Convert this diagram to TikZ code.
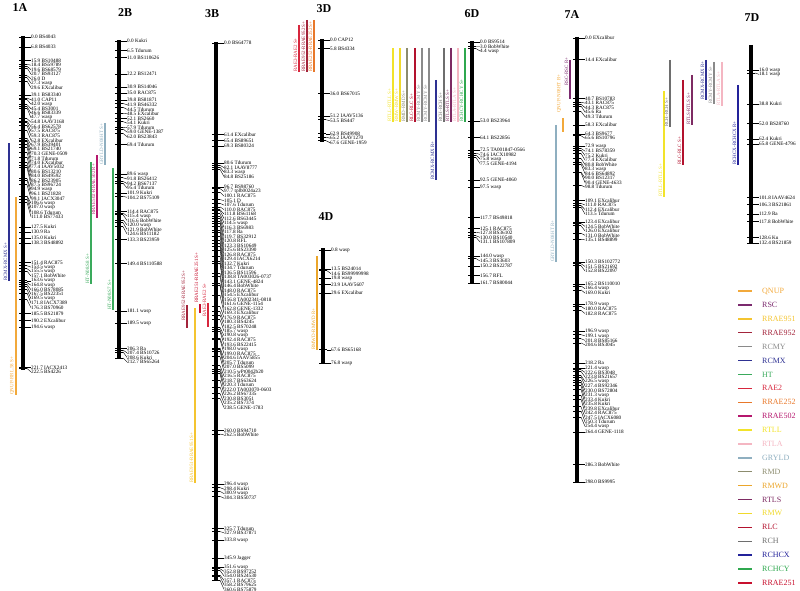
\documentclass[tikz,border=0pt]{standalone}
\usepackage{fontspec}
\setmainfont{Liberation Serif}
\usetikzlibrary{positioning}
\definecolor{cQNUP}{HTML}{F2A93B}
\definecolor{cRSC}{HTML}{7B2A6E}
\definecolor{cRRAE951}{HTML}{F4C430}
\definecolor{cRRAE952}{HTML}{A3243B}
\definecolor{cRCMY}{HTML}{8A8A8A}
\definecolor{cRCMX}{HTML}{2E3192}
\definecolor{cHT}{HTML}{3AAA5C}
\definecolor{cRAE2}{HTML}{D7263D}
\definecolor{cRRAE252}{HTML}{E8782A}
\definecolor{cRRAE502}{HTML}{B5176D}
\definecolor{cRTLL}{HTML}{F2E32A}
\definecolor{cRTLA}{HTML}{F4B6C2}
\definecolor{cGRYLD}{HTML}{8FAFC0}
\definecolor{cRMD}{HTML}{8C8C6E}
\definecolor{cRMWD}{HTML}{EBA62B}
\definecolor{cRTLS}{HTML}{7E2B63}
\definecolor{cRMW}{HTML}{F0D92B}
\definecolor{cRLC}{HTML}{B3122E}
\definecolor{cRCH}{HTML}{6E6E6E}
\definecolor{cRCHCX}{HTML}{23229A}
\definecolor{cRCHCY}{HTML}{2FA84F}
\definecolor{cRRAE251}{HTML}{C8102E}

% chromosome: id, x, y of 0 cM, last cM, markers
\newcommand{\chrom}[5]{%
  \draw[chrbar] (#2,#3-1) -- (#2,{#3+#4*1.49+1});
  \xdef\lasty{-1000}
  \foreach \cm/\mk [count=\i] in {#5}{
    \pgfmathsetmacro{\ty}{#3+\cm*1.49}
    \pgfmathsetmacro{\ly}{max(\ty,\lasty+4.5)}
    \xdef\lasty{\ly}
    \coordinate (#1t\i) at (#2+4,\ty);
    \draw[tick] (#2-4,\ty) -- (#1t\i);
    \node[mk] (#1m\i) at (#2+8,\ly) {\cm\ \mk};
    \draw[lead] (#1t\i) -- (#1m\i.west);
  }
}
% qtl: id, colour, x, top, bottom, label bottom, text
\newcommand{\qtl}[7]{%
  \coordinate (#1a) at (#3,#4);
  \coordinate (#1b) at (#3,#5);
  \draw[qtlline,#2] (#1a) -- (#1b);
  \node[qtltext,text=#2] (#1) at (#3-1.6,#6) {#7};
}

\begin{document}
\begin{tikzpicture}[x=1pt,y=-1pt,
  chrbar/.style={line width=3.2pt},
  tick/.style={line width=0.6pt},
  lead/.style={line width=0.4pt},
  mk/.style={anchor=west,inner sep=0pt,font=\fontsize{5.2}{5.2}\selectfont},
  title/.style={font=\fontsize{12}{12}\selectfont\bfseries},
  qtlline/.style={line width=1.4pt},
  qtltext/.style={rotate=90,anchor=south west,inner sep=0pt,font=\fontsize{5}{5}\selectfont},
  legtext/.style={anchor=west,inner sep=0pt,font=\fontsize{8}{8}\selectfont}
]
\useasboundingbox (0,0) rectangle (800,591);

% titles
\node[title] (t1A) at (20,8) {1A};
\node[title] (t2B) at (125,13) {2B};
\node[title] (t3B) at (212,14) {3B};
\node[title] (t3D) at (324,9) {3D};
\node[title] (t4D) at (326,217) {4D};
\node[title] (t6D) at (472,14) {6D};
\node[title] (t7A) at (572,15) {7A};
\node[title] (t7D) at (752,18) {7D};

% chromosomes
\chrom{a}{23}{37}{222.5}{0.0/BS4043, 6.8/BS4033, 15.9/BS10488, 18.4/BS59789, 19.6/BS68579, 20.7/BS93127, 26.0/D, 27.3/wasp, 29.6/EXcalibur, 39.1/BS83340, 41.0/CAP11, 42.0/wasp, 45.4/BS3001, 46.6/BS83339, 47.7/wasp, 54.8/IAAV3168, 56.4/BS62578, 57.5/RAC875, 59.3/RAC875, 62.8/EXcalibur, 67.9/BS39401, 69.1/BS21740, 70.3/GENE-0509, 71.8/Tdurum, 74.0/EXcalibur, 77.4/IAAV5032, 80.6/BS13210, 84.0/BS49592, 86.2/BS23905, 87.5/BS96724, 94.9/wasp, 96.1/BS21828, 99.1/IACX3047, 106.6/wasp, 107.0/wasp, 108.6/Tdurum, 111.0/BS77433, 127.5/Kukri, 130.9/Ra, 135.0/Kukri, 138.3/BS48892, 151.4/RAC875, 153.5/wasp, 155.5/wasp, 157.1/BobWhite, 163.6/wasp, 164.8/wasp, 166.0/BS78085, 167.5/BS22351, 169.5/wasp, 171.8/IACX7389, 176.3/BS70960, 185.5/BS21879, 190.2/EXcalibur, 194.6/wasp, 221.7/IACX2413, 222.5/BS4226}

\chrom{b}{119}{41}{212.7}{0.0/Kukri, 6.5/Tdurum, 11.0/BS110626, 22.2/BS12471, 30.9/BS14046, 35.0/RAC875, 39.8/BS81871, 41.9/BS46332, 44.5/Tdurum, 48.5/EXcalibur, 52.1/BS2660, 54.1/Kukri, 57.9/Tdurum, 59.0/GENE-1387, 62.0/BS23843, 69.4/Tdurum, 89.6/wasp, 91.8/BS26412, 94.2/BS67137, 95.4/Tdurum, 101.9/Kukri, 104.2/BS75109, 114.4/RAC875, 115.4/wasp, 116.6/BobWhite, 120.0/wasp, 121.9/BobWhite, 124.6/BS11182, 133.3/BS23959, 149.4/BS110588, 181.1/wasp, 189.5/wasp, 206.3/Ra, 207.4/BS10726, 208.6/Kukri, 212.7/BS65264}

\chrom{c}{216}{43}{360.6}{0.0/BS64778, 61.4/EXcalibur, 65.4/BS89651, 69.3/BS80324, 80.6/Tdurum, 82.1/IAAV8777, 83.3/wasp, 84.8/BS25186, 96.7/BS98760, 97.7/tplb0024a23, 100.1/RAC875, 105.1/D, 107.6/Tdurum, 110.0/RAC875, 111.8/BS61168, 112.6/BS63445, 114.5/wasp, 116.3/BS6983, 117.8/Ra, 119.7/BS32912, 120.8/RFL, 123.3/BS10649, 125.6/BS23390, 126.8/RAC875, 129.4/IACX6214, 132.7/Kukri, 134.7/Tdurum, 136.5/BS11596, 138.8/TA003026-0737, 143.1/GENE-4824, 146.4/BobWhite, 148.0/RAC875, 154.5/EXcalibur, 156.8/TA002341-0818, 161.6/GENE-1154, 162.8/GENE-1332, 169.3/EXcalibur, 176.9/RAC875, 180.3/BS4245, 182.5/BS70248, 185.7/wasp, 190.8/wasp, 192.4/RAC875, 193.6/BS22415, 198.0/wasp, 199.0/RAC875, 204.6/IAAV5855, 205.7/Tdurum, 207.0/BS5099, 210.5/wPt0042b20, 216.5/RAC875, 218.7/BS63624, 220.3/Tdurum, 222.0/TA003070-0603, 226.2/BS67335, 230.8/BS3051, 235.2/BS7374, 238.5/GENE-1783, 260.0/BS94710, 262.5/BobWhite, 296.4/wasp, 298.4/Kukri, 300.9/wasp, 304.3/BS50737, 325.7/Tdurum, 327.9/BS37871, 333.8/wasp, 345.9/Jagger, 351.6/wasp, 352.8/BS97252, 354.0/BS24530, 357.1/RAC875, 358.2/BS79625, 360.6/BS75879}

\chrom{d}{322}{40}{67.6}{0.0/CAP12, 5.8/BS4334, 36.0/BS67015, 51.2/IAAV5136, 53.5/BS447, 62.9/BS49908, 65.2/IAAV1270, 67.6/GENE-1959}

\chrom{e}{323}{249}{76.8}{0.8/wasp, 13.5/BS24014, 14.6/BS99999998, 19.8/wasp, 23.9/IAAV5607, 29.6/EXcalibur, 67.6/BS65168, 76.8/wasp}

\chrom{f}{472}{42}{161.7}{0.0/BS9514, 3.0/BobWhite, 4.4/wasp, 53.0/BS23964, 64.1/BS22856, 72.5/TA001847-0566, 74.6/IACX10982, 75.8/wasp, 77.5/GENE-4194, 92.5/GENE-4060, 97.5/wasp, 117.7/BS49818, 125.1/RAC875, 127.8/BS36102, 130.0/BS10540, 131.1/BS107809, 144.0/wasp, 145.3/BS3603, 150.2/BS22787, 156.7/RFL, 161.7/BS80044}

\chrom{g}{577}{38}{298.0}{0.0/EXcalibur, 14.4/EXcalibur, 40.7/BS10783, 43.1/RAC875, 44.3/RAC875, 45.6/Ra, 49.3/Tdurum, 58.3/EXcalibur, 64.3/BS9677, 65.6/BS10796, 72.9/wasp, 74.1/BS78359, 75.2/Kukri, 77.4/EXcalibur, 80.8/BobWhite, 83.3/wasp, 84.6/BS64892, 90.0/BS12317, 90.4/GENE-4633, 98.8/Tdurum, 109.1/EXcalibur, 111.0/RAC875, 112.4/EXcalibur, 113.5/Tdurum, 123.4/EXcalibur, 124.5/BobWhite, 126.0/EXcalibur, 131.0/BobWhite, 135.1/BS48899, 150.3/BS102772, 151.5/BS21692, 152.8/BS22097, 165.2/BS110010, 166.4/wasp, 169.0/Kukri, 178.9/wasp, 180.0/RAC875, 182.8/RAC875, 196.9/wasp, 199.1/wasp, 201.8/BS85166, 204.6/BS3045, 218.2/Ra, 221.4/wasp, 222.6/BS3048, 223.8/BS21657, 226.5/wasp, 227.4/BS92346, 230.0/BS72804, 231.3/wasp, 233.4/Kukri, 235.8/Kukri, 239.8/EXcalibur, 242.4/RAC875, 247.5/IACX6080, 250.3/Tdurum, 254.4/wasp, 264.4/GENE-1118, 286.3/BobWhite, 298.0/BS9995}

\chrom{h}{751}{46}{132.4}{16.0/wasp, 18.1/wasp, 38.8/Kukri, 52.0/BS28760, 62.4/Kukri, 65.8/GENE-4796, 101.8/IAAV4624, 106.3/BS21861, 112.9/Ra, 117.8/BobWhite, 128.6/Ku, 132.4/BS21859}

% QTL intervals
\qtl{q1}{cRCMX}{9}{143}{281}{281}{RCMX-RCMX S+}
\qtl{q2}{cQNUP}{16}{197}{395}{395}{QNUP-RRL.58 S+}
\qtl{q3}{cHT}{91}{162}{284}{284}{HT-N08.S8 S+}
\qtl{q4}{cRRAE502}{97}{155}{218}{215}{RRAE502-RRAE502 R+}
\qtl{q5}{cGRYLD}{105}{123}{165}{165}{GRYLD-N08HT S+}
\qtl{q6}{cHT}{113}{168}{310}{310}{HT-N08.S7 S+}
\qtl{q7}{cRRAE952}{187}{305}{328}{321}{RRAE952-RRAE952 S+}
\qtl{q8}{cRRAE951}{195}{308}{483}{483}{RRAE951-RRAE951 S+}
\qtl{q9}{cRRAE251}{200}{304}{313}{303}{RRAE251-RRAE251 S+}
\qtl{q10}{cRAE2}{208}{303}{327}{317}{RAE2-RAE2 S+}
\qtl{q11}{cRAE2}{299}{25}{72}{72}{RAE2-RAE2 S+}
\qtl{q12}{cRRAE952}{307}{20}{72}{72}{RRAE952-RRAE952 S+}
\qtl{q13}{cRRAE252}{314}{20}{72}{72}{RRAE252-RRAE252 S+}
\qtl{q14}{cRMWD}{317}{256}{350}{350}{RMWD-RMWD R+}
\qtl{q15}{cRTLL}{393}{48}{122}{122}{RTLL-RTLL S+}
\qtl{q16}{cRMW}{400}{48}{122}{122}{RMW-RMW S+}
\qtl{q17}{cRMD}{407}{48}{122}{122}{RMD-RMD S+}
\qtl{q18}{cRLC}{415}{48}{122}{122}{RLC-RLC S+}
\qtl{q19}{cRCMY}{422}{48}{122}{122}{RCMY-RCMY S+}
\qtl{q20}{cRCMY}{429}{48}{122}{122}{RCMY-RCMY S+}
\qtl{q21}{cRCMX}{436}{80}{180}{180}{RCMX-RCMX R+}
\qtl{q22}{cRCH}{444}{48}{122}{122}{RCH-RCH S+}
\qtl{q23}{cRTLS}{451}{48}{122}{122}{RTLS-RTLS S+}
\qtl{q24}{cRTLA}{458}{48}{122}{122}{RTLA-RTLA S+}
\qtl{q25}{cRCHCY}{465}{48}{122}{122}{RCHCY-RCHCY S+}
\qtl{q26}{cGRYLD}{556}{125}{262}{262}{GRYLD-N08HT R+}
\qtl{q27}{cQNUP}{563}{118}{132}{113}{QNUP-N08HT R+}
\qtl{q28}{cRSC}{570}{60}{99}{86}{RSC-RSC R+}
\qtl{q29}{cRTLL}{664}{91}{197}{197}{RTLL-RTLL S+}
\qtl{q30}{cRCH}{670}{60}{127}{127}{RCH-RCH S+}
\qtl{q31}{cRLC}{683}{80}{165}{165}{RLC-RLC S+}
\qtl{q32}{cRTLS}{692}{75}{125}{125}{RTLS-RTLS S+}
\qtl{q33}{cRCMX}{706}{60}{100}{100}{RCMX-RCMX R+}
\qtl{q34}{cRCMY}{714}{62}{104}{104}{RCMY-RCMY S+}
\qtl{q35}{cRTLA}{722}{62}{106}{106}{RTLA-RTLA S+}
\qtl{q36}{cRCHCX}{738}{85}{165}{165}{RCHCX-RCHCX R+}

% legend
\foreach \n [count=\i] in {QNUP,RSC,RRAE951,RRAE952,RCMY,RCMX,HT,RAE2,RRAE252,RRAE502,RTLL,RTLA,GRYLD,RMD,RMWD,RTLS,RMW,RLC,RCH,RCHCX,RCHCY,RRAE251}{
  \coordinate (k\i) at (738,{291+(\i-1)*13.9});
  \node[legtext,text=c\n] (l\i) at (762,{291+(\i-1)*13.9}) {\n};
  \draw[line width=1.4pt,c\n] (k\i) -- ++(14,0);
}
\end{tikzpicture}
\end{document}
